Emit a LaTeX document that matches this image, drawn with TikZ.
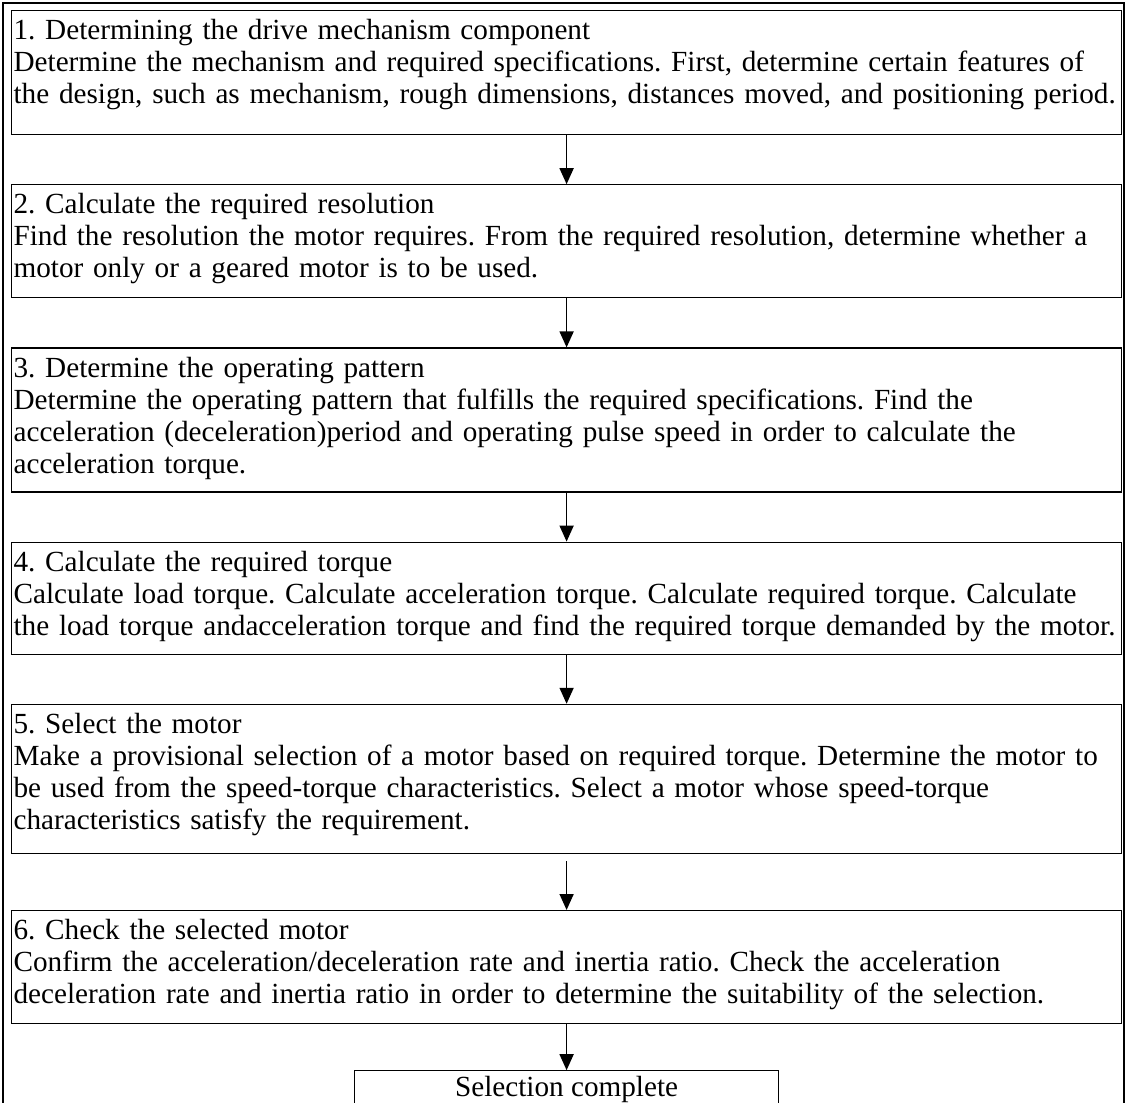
\documentclass[tikz,border=0pt]{standalone}
\usepackage{fontspec}
\setmainfont{Liberation Serif}
\usetikzlibrary{arrows.meta,positioning}
\frenchspacing
\tikzset{
  stepbox/.style={draw,line width=0.6pt,align=left,inner xsep=1pt,inner ysep=0pt,
    text width=553pt,text height=14.5pt,text depth=#1,font=\fontsize{14.6}{16}\selectfont},
  stepbox/.default=42pt,
  endbox/.style={draw,line width=0.6pt,minimum width=212pt,minimum height=19pt,
    inner sep=0pt,font=\fontsize{14.6}{16}\selectfont},
  steparrow/.style={-{Triangle[length=8pt,width=7pt]},line width=0.8pt}
}

\begin{document}
\begin{tikzpicture}[x=0.5pt,y=-0.5pt,node distance=24.5pt]
\useasboundingbox (0,0) rectangle (1126,1103);
\draw[line width=0.7pt] (3,1103) -- (3,3) -- (1124,3) -- (1124,1103);
\node[stepbox=47.5pt,anchor=north west] (mech) at (11,10) {1. Determining the drive mechanism component\\
Determine the mechanism and required specifications. First, determine certain features of\\
the design, such as mechanism, rough dimensions, distances moved, and positioning period.};
\node[stepbox,below=of mech] (resol) {2. Calculate the required resolution\\
Find the resolution the motor requires. From the required resolution, determine whether a\\
motor only or a geared motor is to be used.};
\node[stepbox=57.5pt,below=of resol] (pattern) {3. Determine the operating pattern\\
Determine the operating pattern that fulfills the required specifications. Find the\\
acceleration (deceleration)period and operating pulse speed in order to calculate the\\
acceleration torque.};
\node[stepbox=41.5pt,below=of pattern] (torque) {4. Calculate the required torque\\
Calculate load torque. Calculate acceleration torque. Calculate required torque. Calculate\\
the load torque andacceleration torque and find the required torque demanded by the motor.};
\node[stepbox=60pt,below=of torque] (select) {5. Select the motor\\
Make a provisional selection of a motor based on required torque. Determine the motor to\\
be used from the speed-torque characteristics. Select a motor whose speed-torque\\
characteristics satisfy the requirement.};
\node[stepbox,below=28pt of select] (check) {6. Check the selected motor\\
Confirm the acceleration/deceleration rate and inertia ratio. Check the acceleration\\
deceleration rate and inertia ratio in order to determine the suitability of the selection.};
\node[endbox,below=23pt of check] (done) {Selection complete};
\draw[steparrow] (mech) -- (resol);
\draw[steparrow] (resol) -- (pattern);
\draw[steparrow] (pattern) -- (torque);
\draw[steparrow] (torque) -- (select);
\draw[steparrow] ([yshift=-3.5pt]select.south) -- (check);
\draw[steparrow] (check) -- (done);
\end{tikzpicture}
\end{document}
